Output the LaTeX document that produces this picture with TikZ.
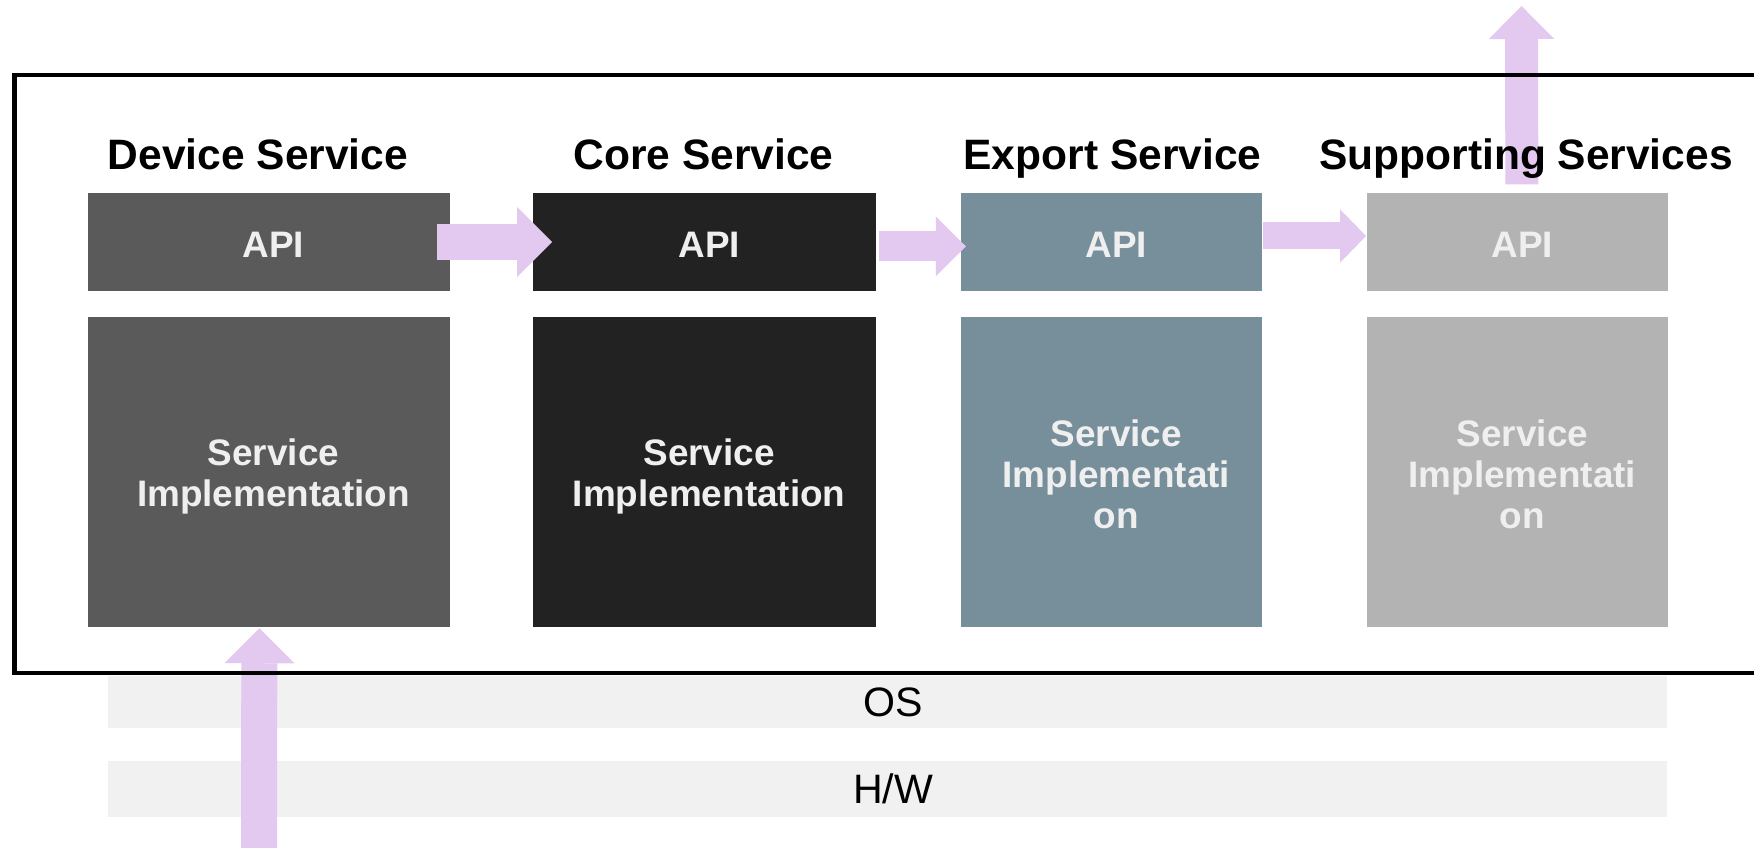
\documentclass[tikz,border=0pt]{standalone}
\usepackage{fontspec}
\setmainfont{Liberation Sans}
\usetikzlibrary{arrows.meta,calc}

\definecolor{devgray}{HTML}{5A5A5A}
\definecolor{coreblack}{HTML}{222222}
\definecolor{exportslate}{HTML}{778F9B}
\definecolor{supgray}{HTML}{B3B3B3}
\definecolor{boxtext}{HTML}{EFEFEF}
\definecolor{arrowlav}{HTML}{E3C8EF}
\definecolor{layerfill}{HTML}{F1F1F1}

\tikzset{
  svc/.style={anchor=north west, inner sep=0pt},
  svctext/.style={inner sep=0pt, align=center, text=boxtext, xshift=2.6pt,
    font=\fontsize{21}{23.3}\selectfont\bfseries},
  layer/.style={anchor=north west, inner sep=0pt, fill=layerfill,
    minimum width=31.19cm, minimum height=1.05cm},
  layertext/.style={inner sep=0pt, xshift=3.2pt, font=\fontsize{23.4}{25}\selectfont},
  heading/.style={anchor=base, inner sep=0pt, font=\fontsize{24.2}{26}\selectfont\bfseries},
  flow/.style n args={3}{color=arrowlav, line width=#1,
    -{Triangle[width=#2, length=#3, line width=0pt]}}
}

\begin{document}
\begin{tikzpicture}[x=0.02cm, y=-0.02cm]
    \clip (0,0) rectangle (1754,848);
    % OS and H/W layers
    \node[layer, label={[layertext]center:OS}] (os) at (107.4,675.6) {};
    \node[layer, minimum height=1.12cm, label={[layertext]center:H/W}] (hw) at (107.4,760.6) {};

    % service boxes
    \node[svc, fill=devgray, minimum width=7.25cm, minimum height=1.97cm,
      label={[svctext, yshift=-1.4pt]center:API}] (devapi) at (87.3,192.4) {};
    \node[svc, fill=devgray, minimum width=7.25cm, minimum height=6.2cm,
      label={[svctext, yshift=-2.8pt]center:Service\\Implementation}] (devimpl) at (87.3,316.6) {};
    \node[svc, fill=coreblack, minimum width=6.87cm, minimum height=1.97cm,
      label={[svctext, yshift=-1.4pt]center:API}] (coreapi) at (532.5,192.4) {};
    \node[svc, fill=coreblack, minimum width=6.87cm, minimum height=6.2cm,
      label={[svctext, yshift=-2.8pt]center:Service\\Implementation}] (coreimpl) at (532.5,316.6) {};
    \node[svc, fill=exportslate, minimum width=6.02cm, minimum height=1.97cm,
      label={[svctext, yshift=-1.4pt]center:API}] (exportapi) at (960.9,192.4) {};
    \node[svc, fill=exportslate, minimum width=6.02cm, minimum height=6.2cm,
      label={[svctext, yshift=-1.2pt]center:Service\\Implementati\\on}] (exportimpl) at (960.9,316.6) {};
    \node[svc, fill=supgray, minimum width=6.02cm, minimum height=1.97cm,
      label={[svctext, yshift=-1.4pt]center:API}] (supapi) at (1367,192.4) {};
    \node[svc, fill=supgray, minimum width=6.02cm, minimum height=6.2cm,
      label={[svctext, yshift=-1.2pt]center:Service\\Implementati\\on}] (supimpl) at (1367,316.6) {};

    % data flow
    \coordinate (sensor) at (259,850);
    \coordinate (outside) at (1521.5,6);
    \draw[flow={0.72cm}{1.4cm}{0.7cm}] (sensor) -- ($(devimpl.south)+(-9.5,1)$);
    \draw[flow={0.72cm}{1.4cm}{0.7cm}] ($(devapi.east)+(-13,0)$) -- ($(coreapi.west)+(19.5,0)$);
    \draw[flow={0.6cm}{1.19cm}{0.6cm}] ($(coreapi.east)+(2,4.4)$) -- ($(exportapi.west)+(5,4.4)$);
    \draw[flow={0.54cm}{1.07cm}{0.52cm}] ($(exportapi.east)+(0,-6)$) -- ($(supapi.west)+(-1,-6)$);
    \draw[flow={0.66cm}{1.31cm}{0.66cm}] ($(supapi.north)+(4,-8)$) -- (outside);

    % frame
    \draw[line width=2.3pt] (14.5,75) rectangle (1800,673);

    % headings
    \node[heading] (devtitle) at (258,169) {Device Service};
    \node[heading] (coretitle) at (703.6,169) {Core Service};
    \node[heading] (exporttitle) at (1112.5,169) {Export Service};
    \node[heading] (suptitle) at (1526,169) {Supporting Services};
\end{tikzpicture}
\end{document}
